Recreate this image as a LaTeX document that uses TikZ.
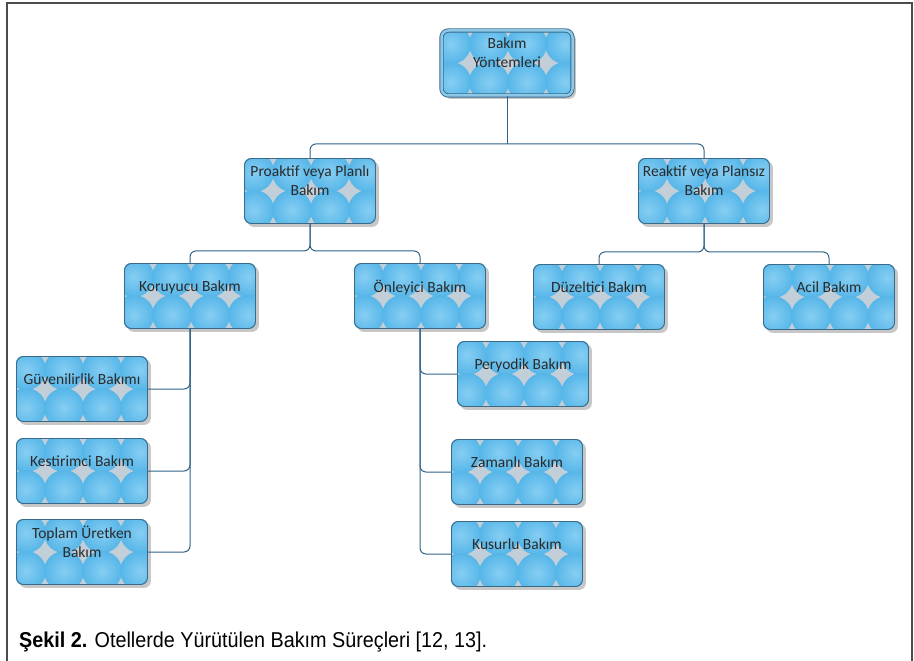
\documentclass[tikz,border=0pt]{standalone}
\usepackage{fontspec}
\setmainfont{Carlito}
\newfontfamily\capfont[FakeStretch=0.92]{Liberation Sans}
\usetikzlibrary{backgrounds}

\definecolor{boxgray}{HTML}{C3CFD8}
\definecolor{bubble}{HTML}{56B6E8}
\definecolor{bubblelight}{HTML}{86CEF3}
\definecolor{boxline}{HTML}{3A6A8A}
\definecolor{linkblue}{HTML}{2F6388}
\definecolor{boxtext}{HTML}{2A2A2A}
\definecolor{rootring}{HTML}{8CC8E8}

\begin{document}
\begin{tikzpicture}
  [ x=1pt, y=-1pt, node distance=80pt,
    box/.style={draw=boxline, line width=0.9pt, rounded corners=7pt,
      minimum width=131pt, minimum height=65pt, align=center, text=boxtext,
      font=\fontsize{15.5}{19}\selectfont,
      execute at end node={\rule[-20pt]{0pt}{0pt}}},
    link/.style={draw=linkblue, line width=1pt, rounded corners=6pt},
    frame/.style={draw=black!70, line width=2pt},
    boxshadow/.style={fill=black!22, rounded corners=7pt},
    boxback/.style={fill=boxgray, rounded corners=7pt},
    bubbles/.style={inner color=bubblelight, outer color=bubble}]
  \useasboundingbox (0,0) rectangle (914,661);
  \draw [frame] (7,661) -- (7,3) -- (912,3) -- (912,661);

  \node [box, name=root, double=rootring, double distance=2.5pt] at (507,63) {Bakım\\Yöntemleri};
  \node [box, name=proaktif, below of=root, node distance=128pt, xshift=-197pt] {Proaktif veya Planlı\\Bakım};
  \node [box, name=reaktif, right of=proaktif, node distance=394pt] {Reaktif veya Plansız\\Bakım};
  \node [box, name=koruyucu, below of=proaktif, node distance=105pt, xshift=-120pt] {Koruyucu Bakım};
  \node [box, name=onleyici, right of=koruyucu, node distance=230pt] {Önleyici Bakım};
  \node [box, name=duzeltici, below of=reaktif, node distance=106pt, xshift=-105pt] {Düzeltici Bakım};
  \node [box, name=acil, right of=duzeltici, node distance=230pt] {Acil Bakım};
  \node [box, name=guven, below of=koruyucu, node distance=93pt, xshift=-108pt] {Güvenilirlik Bakımı};
  \node [box, name=kestirim, below of=guven, node distance=82pt] {Kestirimci Bakım};
  \node [box, name=toplam, below of=kestirim, node distance=81pt] {Toplam Üretken\\Bakım};
  \node [box, name=peryodik, below of=onleyici, node distance=78pt, xshift=103pt] {Peryodik Bakım};
  \node [box, name=zamanli, below of=peryodik, node distance=98pt, xshift=-6pt] {Zamanlı Bakım};
  \node [box, name=kusurlu, below of=zamanli, node distance=82pt] {Kusurlu Bakım};

  % shadow, grey ground and bubbles behind every box
  \begin{pgfonlayer}{background}
    \foreach \n in {root,proaktif,reaktif,koruyucu,onleyici,duzeltici,acil,guven,kestirim,toplam,peryodik,zamanli,kusurlu} {
      \fill [boxshadow] ([shift={(3pt,-3pt)}]\n.south west) rectangle ([shift={(3pt,-3pt)}]\n.north east);
      \fill [boxback] (\n.south west) rectangle (\n.north east);
      \begin{scope}
        \clip [rounded corners=7pt] (\n.south west) rectangle (\n.north east);
        \foreach \i in {0,...,4}
          \foreach \j in {0,1}
            \shade [bubbles] ([shift={(\i*38pt+10pt,-\j*38pt-14pt)}]\n.north west) circle [radius=20pt];
      \end{scope}
    }
  \end{pgfonlayer}

  \draw [link] (root.south) -- ++(0,48) coordinate (rj);
  \draw [link] (proaktif.north) |- (rj) -| (reaktif.north);
  \draw [link] (proaktif.south) -- ++(0,27) -| (koruyucu.north);
  \draw [link] (proaktif.south) -- ++(0,27) -| (onleyici.north);
  \draw [link] (reaktif.south) -- ++(0,28) -| (duzeltici.north);
  \draw [link] (reaktif.south) -- ++(0,28) -| (acil.north);
  \draw [link] (koruyucu.south) |- (guven.east);
  \draw [link] (koruyucu.south) |- (kestirim.east);
  \draw [link] (koruyucu.south) |- (toplam.east);
  \draw [link] (onleyici.south) |- (peryodik.west);
  \draw [link] (onleyici.south) |- (zamanli.west);
  \draw [link] (onleyici.south) |- (kusurlu.west);

  \node [name=caption, anchor=base west, inner sep=0pt, font=\capfont\fontsize{21.5}{24}\selectfont]
    at (19,647) {\textbf{Şekil 2.} Otellerde Yürütülen Bakım Süreçleri [12, 13].};
\end{tikzpicture}
\end{document}
